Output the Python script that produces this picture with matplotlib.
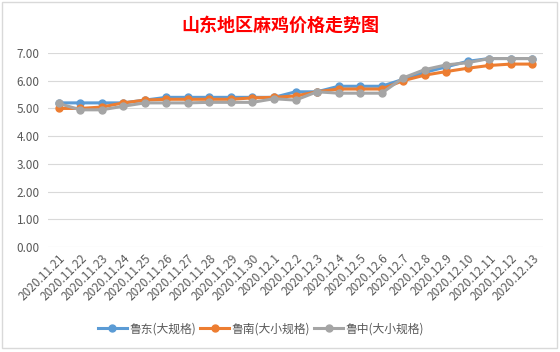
import matplotlib
matplotlib.use("Agg")
import matplotlib.pyplot as plt
from matplotlib.patches import Rectangle

plt.rcParams['font.family'] = ['Noto Sans CJK SC', 'DejaVu Sans']

dates = ["2020.11.21", "2020.11.22", "2020.11.23", "2020.11.24", "2020.11.25",
         "2020.11.26", "2020.11.27", "2020.11.28", "2020.11.29", "2020.11.30",
         "2020.12.1", "2020.12.2", "2020.12.3", "2020.12.4", "2020.12.5",
         "2020.12.6", "2020.12.7", "2020.12.8", "2020.12.9", "2020.12.10",
         "2020.12.11", "2020.12.12", "2020.12.13"]

ludong = [5.2, 5.2, 5.2, 5.2, 5.3, 5.4, 5.4, 5.4, 5.4, 5.4, 5.4, 5.6,
          5.6, 5.8, 5.8, 5.8, 6.05, 6.3, 6.5, 6.7, 6.8, 6.8, 6.8]
lunan = [5.0, 5.0, 5.05, 5.2, 5.3, 5.33, 5.33, 5.33, 5.33, 5.38, 5.4, 5.45,
         5.6, 5.7, 5.7, 5.7, 6.0, 6.2, 6.33, 6.45, 6.55, 6.6, 6.6]
luzhong = [5.18, 4.95, 4.95, 5.08, 5.2, 5.2, 5.2, 5.22, 5.22, 5.22, 5.35, 5.3,
           5.6, 5.55, 5.55, 5.55, 6.1, 6.4, 6.57, 6.65, 6.8, 6.8, 6.8]

series = [("鲁东(大规格)", ludong, "#5B9BD5"),
          ("鲁南(大小规格)", lunan, "#ED7D31"),
          ("鲁中(大小规格)", luzhong, "#A5A5A5")]

fig = plt.figure(figsize=(5.6, 3.52), dpi=100)
ax = fig.add_axes([48 / 560, 1 - 247 / 352, 495 / 560, 194 / 352])

x = list(range(len(dates)))
for name, vals, col in series:
    ax.plot(x, vals, color=col, lw=2.2, marker="o", ms=5, label=name)

ax.set_xlim(-0.5, len(dates) - 0.5)
ax.set_ylim(0, 7)
ax.set_yticks([0, 1, 2, 3, 4, 5, 6, 7])
ax.set_yticklabels([f"{v:.2f}" for v in range(8)])
ax.yaxis.grid(True, color="#D9D9D9", lw=0.8)
ax.set_axisbelow(True)
for s in ax.spines.values():
    s.set_visible(False)
ax.tick_params(axis="both", length=0, colors="#595959", labelsize=8.5)
ax.tick_params(axis="y", pad=6)
ax.set_xticks(x)
ax.set_xticklabels(dates, rotation=45, ha="right", rotation_mode="anchor")

fig.suptitle("山东地区麻鸡价格走势图", x=0.5, y=0.955, color="#FF0000",
             fontsize=13, fontweight="bold")

fig.legend(loc="center", bbox_to_anchor=(0.466, 0.065), ncol=3, frameon=False,
           fontsize=8.5, handlelength=2.5, columnspacing=0.3, handletextpad=0.2,
           labelcolor="#595959")

fig.patches.append(Rectangle((0.004, 0.01), 0.99, 0.985, transform=fig.transFigure,
                             fill=False, edgecolor="#D9D9D9", lw=1))

fig.savefig("out.png", dpi=100)
